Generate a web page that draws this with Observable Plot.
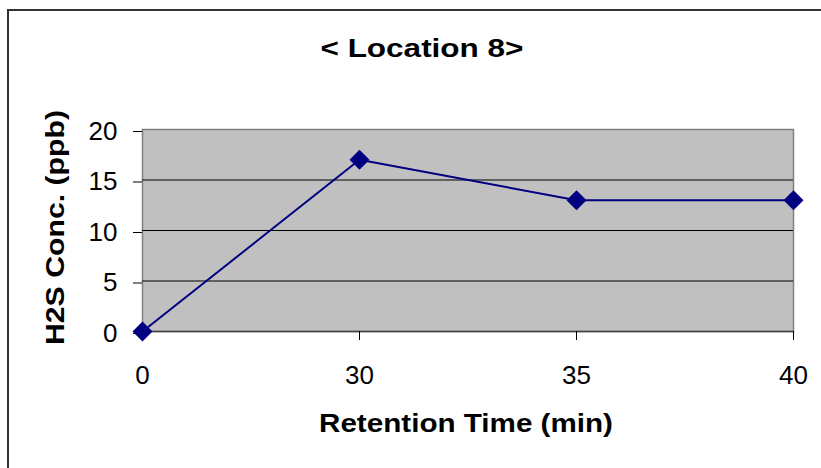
<!DOCTYPE html>
<html><head><meta charset="utf-8">
<script src="https://cdn.jsdelivr.net/npm/d3@7"></script>
<script src="https://cdn.jsdelivr.net/npm/@observablehq/plot@0.6"></script>
<style>
body{margin:0;background:#fff;}
#wrap{position:relative;width:821px;height:468px;overflow:hidden;background:#fff;}
#chart{position:absolute;left:0;top:0;}
#border{position:absolute;left:7px;top:9px;width:900px;height:600px;border:2px solid #333;box-sizing:border-box;pointer-events:none;}
</style></head><body>
<div id="wrap"><div id="chart"></div><div id="border"></div></div>
<script>
const categories = ["0", "30", "35", "40"];
const values = [0, 17, 13, 13];
const yTicks = [0, 5, 10, 15, 20];
const gridValues = [5, 10, 15];
const title = "< Location 8>";
const xTitle = "Retention Time (min)";
const yTitle = "H2S Conc. (ppb)";

const data = categories.map((c, i) => ({time: c, conc: values[i]}));
const navy = "#000080";

const chart = Plot.plot({
  width: 821,
  height: 468,
  marginLeft: 142,
  marginRight: 28,
  marginTop: 129,
  marginBottom: 137,
  style: {fontFamily: "'Liberation Sans', Arial, sans-serif", fontSize: "26px", color: "black", background: "transparent"},
  x: {type: "point", domain: categories, padding: 0, label: null},
  y: {domain: [0, 20], label: null},
  marks: [
    Plot.frame({fill: "#c0c0c0", stroke: "#808080", strokeWidth: 1.5}),
    Plot.gridY(gridValues, {stroke: "black", strokeOpacity: 1, strokeWidth: 1}),
    Plot.ruleY([0], {stroke: "#404040", strokeWidth: 1.5}),
    Plot.axisY(yTicks, {tickSize: 9, tickPadding: 16, fontSize: 26, dy: 2, label: null}),
    Plot.axisX({tickSize: 9, tickPadding: 25, fontSize: 26, label: null}),
    Plot.line(data, {x: "time", y: "conc", stroke: navy, strokeWidth: 2}),
    Plot.dot(data, {x: "time", y: "conc", symbol: "diamond2", r: 9, fill: navy, stroke: "none"}),
    Plot.text([title], {frameAnchor: "top", dx: -46, dy: -73, lineAnchor: "bottom", fontWeight: "bold", fontSize: 25}),
    Plot.text([xTitle], {frameAnchor: "bottom", dx: -2, dy: 100, lineAnchor: "bottom", fontWeight: "bold", fontSize: 25}),
    Plot.text([yTitle], {frameAnchor: "left", dx: -79, dy: 114.5, rotate: -90, textAnchor: "start", lineAnchor: "bottom", fontWeight: "bold", fontSize: 25})
  ]
});
document.getElementById("chart").appendChild(chart);

const lengths = {[title]: 203, [xTitle]: 294, [yTitle]: 235};
chart.querySelectorAll("text").forEach(t => {
  const L = lengths[t.textContent];
  if (L) {
    t.setAttribute("textLength", L);
    t.setAttribute("lengthAdjust", "spacingAndGlyphs");
  }
});
</script>
</body></html>
